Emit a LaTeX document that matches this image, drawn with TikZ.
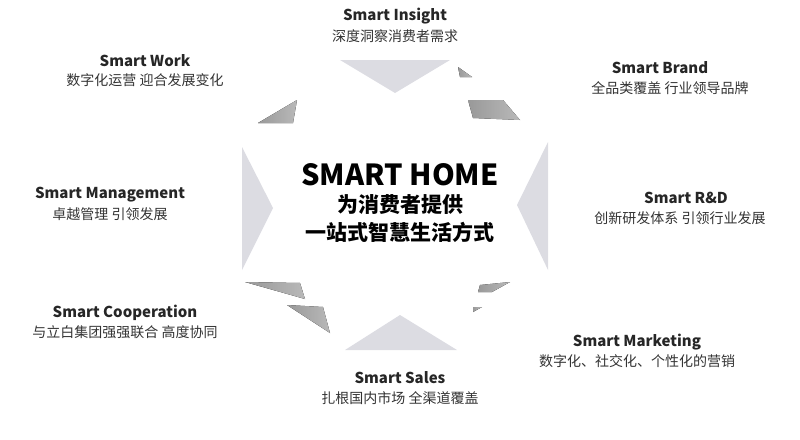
\documentclass[tikz,border=0pt]{standalone}
\usepackage{fontspec}
\setmainfont{Noto Sans CJK SC}
\begin{document}
\begin{tikzpicture}[x=1pt,y=-1pt,
 ttl/.style={font=\bfseries\fontsize{15}{17}\selectfont,text=black!85},
 sub/.style={font=\fontsize{14}{16}\selectfont,text=black!80},
 tri/.style={fill=blue!10!gray!25},
 dk/.style={left color=gray!80,right color=gray!55}]
\useasboundingbox (0,0) rectangle (800,439);
% light triangles
\fill[tri] (340,60) -- (450,60) -- (395,93) -- cycle;
\fill[tri] (345,350) -- (457,350) -- (400,315) -- cycle;
\fill[tri] (242,147) -- (242,270) -- (273,208) -- cycle;
\fill[tri] (548,142) -- (548,270) -- (517,205) -- cycle;
% dark pieces
\fill[dk] (258,123) -- (297,100) -- (293,123) -- cycle;
\fill[dk] (458,67) -- (472,77) -- (460,77) -- cycle;
\fill[dk] (468,100) -- (503,100) -- (520,120) -- (473,118) -- cycle;
\fill[dk] (245,282) -- (300,283) -- (305,299) -- cycle;
\fill[dk] (287,305) -- (323,307) -- (330,333) -- cycle;
\fill[dk] (480,285) -- (510,282) -- (492,292) -- (478,292) -- cycle;
\fill[dk] (473,307) -- (482,307) -- (473,312) -- cycle;
% center
\node[font=\bfseries\fontsize{29}{32}\selectfont] (c1) at (400,175) {SMART HOME};
\node[font=\bfseries\fontsize{21}{24}\selectfont] (c2) at (400,205) {为消费者提供};
\node[font=\bfseries\fontsize{21}{24}\selectfont] (c3) at (400,232) {一站式智慧生活方式};
% labels
\node[ttl] (t1) at (395,16) {Smart Insight};
\node[sub] (s1) at (395,36) {深度洞察消费者需求};
\node[ttl] (t2) at (145,61) {Smart Work};
\node[sub] (s2) at (145,80) {数字化运营 迎合发展变化};
\node[ttl] (t3) at (660,68) {Smart Brand};
\node[sub] (s3) at (670,88) {全品类覆盖 行业领导品牌};
\node[ttl] (t4) at (110,195) {Smart Management};
\node[sub] (s4) at (110,214) {卓越管理 引领发展};
\node[ttl] (t5) at (686,198) {Smart R\&D};
\node[sub] (s5) at (680,218) {创新研发体系 引领行业发展};
\node[ttl] (t6) at (125,313) {Smart Cooperation};
\node[sub] (s6) at (125,332) {与立白集团强强联合 高度协同};
\node[ttl] (t7) at (637,342) {Smart Marketing};
\node[sub] (s7) at (637,361) {数字化、社交化、个性化的营销};
\node[ttl] (t8) at (400,378) {Smart Sales};
\node[sub] (s8) at (400,398) {扎根国内市场 全渠道覆盖};
\end{tikzpicture}
\end{document}
